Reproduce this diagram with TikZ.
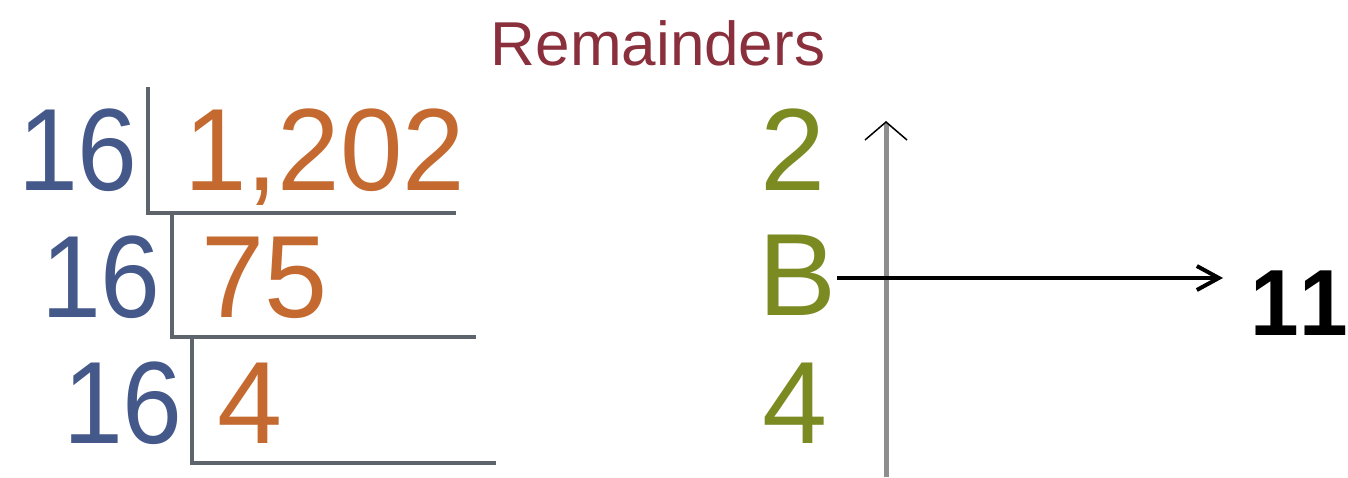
\documentclass[tikz,border=0pt]{standalone}
\usepackage{fontspec}
\setmainfont{Liberation Sans}
\usetikzlibrary{arrows.meta}
\definecolor{divblue}{HTML}{44598A}
\definecolor{quotorange}{HTML}{C46A30}
\definecolor{remgreen}{HTML}{7C8A22}
\definecolor{remred}{HTML}{8A2F3C}
\definecolor{bracketgray}{HTML}{5E646C}
\definecolor{axisgray}{HTML}{8E8E8E}
\newcommand{\narrowbox}[2]{\scalebox{#1}[1]{#2}}
\begin{document}
\begin{tikzpicture}[x=1pt,y=-1pt,
  big/.style={inner sep=0pt, font=\fontsize{117}{117}\selectfont},
  divisor/.style={big, text=divblue, anchor=base east},
  quotient/.style={big, text=quotorange, anchor=base west},
  remainder/.style={big, text=remgreen, anchor=base},
  bracket/.style={draw=bracketgray, line width=4pt},
  axis/.style={draw=axisgray, line width=5pt, -{Straight Barb[black, length=18pt, width=42pt, line width=1.5pt]}},
  pointer/.style={draw=black, line width=4pt, -{Straight Barb[length=22pt, width=24pt, line width=4pt]}}]
\useasboundingbox (0,0) rectangle (1348,477);
\node[inner sep=0pt, anchor=base, text=remred, font=\fontsize{62}{62}\selectfont] (title) at (658,65) {Remainders};
% row 1
\node[divisor] (d1) at (138,190) {\narrowbox{0.92}{16}};
\node[quotient] (q1) at (184,190) {\narrowbox{0.96}{1,202}};
\draw[bracket] (148,87) |- (456,213);
% row 2
\node[divisor] (d2) at (161,317) {\narrowbox{0.92}{16}};
\node[quotient] (q2) at (201,317) {\narrowbox{0.97}{75}};
\draw[bracket] (172,211) |- (476,337);
% row 3
\node[divisor] (d3) at (183,443) {\narrowbox{0.92}{16}};
\node[quotient] (q3) at (217,443) {4};
\draw[bracket] (192,335) |- (496,463);
% remainders
\node[remainder] (r1) at (793,190) {2};
\node[remainder] (r2) at (798,315) {B};
\node[remainder] (r3) at (795,443) {4};
% axis arrow
\coordinate (axbot) at (886,477);
\coordinate (axtop) at (886,121);
\draw[axis] (axbot) -- (axtop);
% pointer to 11
\node[inner sep=0pt, anchor=base east, font=\bfseries\fontsize{94}{94}\selectfont\addfontfeature{Kerning=Off}] (eleven) at (1348,335) {\narrowbox{0.93}{11}};
\coordinate (ptrend) at (1223,278);
\draw[pointer] (r2.east |- ptrend) -- (ptrend);
\end{tikzpicture}
\end{document}
